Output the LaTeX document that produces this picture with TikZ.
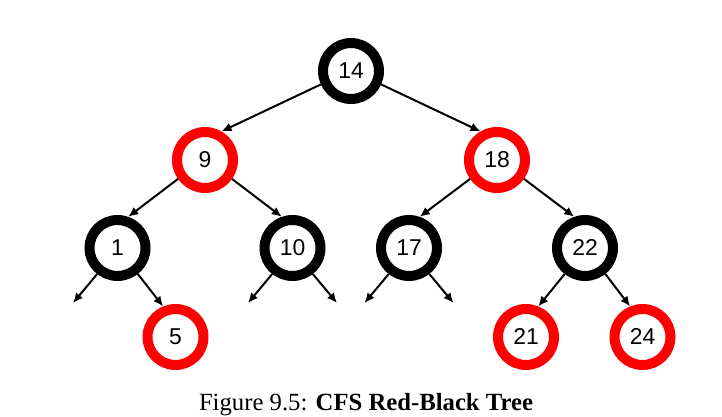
\documentclass[tikz,border=0pt]{standalone}
\usepackage{fontspec}
\setmainfont{Liberation Sans}
\newfontfamily\capfont{Liberation Serif}
\usetikzlibrary{arrows.meta}
\begin{document}
\begin{tikzpicture}[>={Latex[length=5bp,width=4.5bp]},line join=bevel,
  rbnode/.style={circle,line width=5bp,minimum size=28bp,inner sep=0pt,
    fill=white,font=\fontsize{11.5}{13}\selectfont},
  blacknode/.style={rbnode,draw=black},
  rednode/.style={rbnode,draw=red},
  edge/.style={->,line width=1bp}]
  \useasboundingbox (0bp,0bp) rectangle (361bp,208.5bp);
%%
  % Node: 14
  \node (n14) at (175.5bp,173bp) [blacknode] {14};
  % Node: 9
  \node (n9) at (102.5bp,128.5bp) [rednode] {9};
  % Node: 18
  \node (n18) at (248.5bp,128.5bp) [rednode] {18};
  % Node: 1
  \node (n1) at (58.75bp,84.5bp) [blacknode] {1};
  % Node: 10
  \node (n10) at (146.25bp,84.5bp) [blacknode] {10};
  % Node: 17
  \node (n17) at (204.5bp,84.5bp) [blacknode] {17};
  % Node: 22
  \node (n22) at (292.5bp,84.5bp) [blacknode] {22};
  % Node: 5
  \node (n5) at (87.75bp,40bp) [rednode] {5};
  % Node: 21
  \node (n21) at (263bp,40bp) [rednode] {21};
  % Node: 24
  \node (n24) at (321.25bp,40bp) [rednode] {24};
  % empty leaves
  \coordinate (nil1) at (36.5bp,57bp);
  \coordinate (nil10a) at (124bp,57bp);
  \coordinate (nil10b) at (168.5bp,57bp);
  \coordinate (nil17a) at (182.25bp,57bp);
  \coordinate (nil17b) at (226.75bp,57bp);
%
  % Edge: 14 -> 9
  \draw [edge] (n14.204) -- (n9.60);
  % Edge: 14 -> 18
  \draw [edge] (n14.336) -- (n18.120);
  % Edge: 9 -> 1
  \draw [edge] (n9.215) -- (n1.71);
  % Edge: 9 -> 10
  \draw [edge] (n9.325) -- (n10.109);
  % Edge: 18 -> 17
  \draw [edge] (n18.215) -- (n17.71);
  % Edge: 18 -> 22
  \draw [edge] (n18.325) -- (n22.109);
  % Edge: 1 -> nil, 1 -> 5
  \draw [edge] (n1.232) -- (nil1);
  \draw [edge] (n1.308) -- (n5.112);
  % Edge: 10 -> nil
  \draw [edge] (n10.232) -- (nil10a);
  \draw [edge] (n10.308) -- (nil10b);
  % Edge: 17 -> nil
  \draw [edge] (n17.232) -- (nil17a);
  \draw [edge] (n17.308) -- (nil17b);
  % Edge: 22 -> 21, 22 -> 24
  \draw [edge] (n22.232) -- (n21.68);
  \draw [edge] (n22.308) -- (n24.112);
%
  % Caption
  \node (caption) at (183bp,3.5bp) [anchor=base,font=\capfont\fontsize{12.4}{14}\selectfont]
    {Figure 9.5: \textbf{CFS Red-Black Tree}};
\end{tikzpicture}
\end{document}
